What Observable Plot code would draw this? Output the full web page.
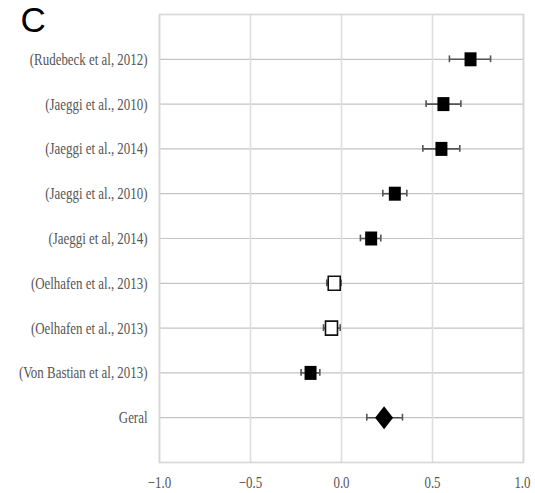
<!DOCTYPE html>
<html>
<head>
<meta charset="utf-8">
<script src="https://cdn.jsdelivr.net/npm/d3@7"></script>
<script src="https://cdn.jsdelivr.net/npm/@observablehq/plot@0.6"></script>
<style>
  body { margin: 0; background: #fff; }
  #chart { position: relative; width: 535px; height: 493px; }
</style>
</head>
<body>
<div id="chart"></div>
<script>
const ids = ["r1","r2","r3","r4","r5","r6","r7","r8","r9"];
const labels = ["(Rudebeck et al, 2012)","(Jaeggi et al., 2010)","(Jaeggi et al., 2014)","(Jaeggi et al., 2010)","(Jaeggi et al, 2014)","(Oelhafen et al., 2013)","(Oelhafen et al., 2013)","(Von Bastian et al, 2013)","Geral"];
const effect = [0.709, 0.560, 0.549, 0.293, 0.163, -0.040, -0.055, -0.170, 0.234];
const lower  = [0.593, 0.465, 0.447, 0.227, 0.104, -0.081, -0.099, -0.222, 0.139];
const upper  = [0.819, 0.656, 0.650, 0.359, 0.216, -0.002, -0.007, -0.119, 0.335];
const kind   = ["filled","filled","filled","filled","filled","open","open","filled","overall"];
const xTicks = [-1, -0.5, 0, 0.5, 1];

const data = ids.map((id, i) => ({id, label: labels[i], effect: effect[i], lower: lower[i], upper: upper[i], kind: kind[i]}));
const labelOf = new Map(data.map(d => [d.id, d.label]));

const rectSymbol = {draw(ctx) { ctx.rect(-6, -7, 12, 14); }};
const diamondSymbol = {draw(ctx) { ctx.moveTo(0, -11.5); ctx.lineTo(9, 0); ctx.lineTo(0, 11.5); ctx.lineTo(-9, 0); ctx.closePath(); }};

const chart = Plot.plot({
  width: 535,
  height: 493,
  marginLeft: 159,
  marginRight: 12,
  marginTop: 14,
  marginBottom: 31,
  style: {fontFamily: "'Liberation Serif', 'Times New Roman', serif", fontSize: "17px", color: "#555", background: "#fff"},
  x: {domain: [-1, 1], label: null},
  y: {type: "band", domain: ids, padding: 0, paddingOuter: 0.5, round: false, label: null},
  marks: [
    Plot.gridY({stroke: "#c4c4c4", strokeOpacity: 1, strokeWidth: 1.2}),
    Plot.gridX(xTicks, {stroke: "#dedede", strokeOpacity: 1, strokeWidth: 1.6}),
    Plot.frame({stroke: "#d6d6d6", strokeWidth: 1.6}),
    Plot.axisY({tickSize: 0, tickPadding: 12, tickFormat: d => labelOf.get(d), label: null}),
    Plot.axisX(xTicks.slice(0, -1), {tickSize: 0, tickPadding: 13, tickFormat: d3.format(".1f"), label: null}),
    Plot.axisX(xTicks.slice(-1), {tickSize: 0, tickPadding: 13, tickFormat: d3.format(".1f"), textAnchor: "end", dx: 7, label: null}),
    Plot.ruleY(data, {y: "id", x1: "lower", x2: "upper", stroke: "#555", strokeWidth: 1.6}),
    Plot.tickX(data, {x: "lower", y: "id", stroke: "#555", strokeWidth: 1.6, insetTop: 19, insetBottom: 19}),
    Plot.tickX(data, {x: "upper", y: "id", stroke: "#555", strokeWidth: 1.6, insetTop: 19, insetBottom: 19}),
    Plot.dot(data.filter(d => d.kind === "filled"), {x: "effect", y: "id", symbol: rectSymbol, fill: "#000", stroke: "none"}),
    Plot.dot(data.filter(d => d.kind === "open"), {x: "effect", y: "id", symbol: rectSymbol, fill: "#fff", stroke: "#111", strokeWidth: 1.6}),
    Plot.dot(data.filter(d => d.kind === "overall"), {x: "effect", y: "id", symbol: diamondSymbol, fill: "#000", stroke: "none"}),
    Plot.text(["C"], {frameAnchor: "top-left", text: d => d, dx: -139, dy: 17, textAnchor: "start", lineAnchor: "bottom", fontSize: 35, fontFamily: "'Liberation Sans', Arial, sans-serif", fill: "#000"})
  ]
});
document.getElementById("chart").appendChild(chart);

// Horizontally condense the serif tick labels, like the reference
chart.querySelectorAll('g[aria-label="y-axis tick label"] text, g[aria-label="x-axis tick label"] text').forEach(t => {
  const w = t.getComputedTextLength();
  t.setAttribute("textLength", (w * 0.76).toFixed(1));
  t.setAttribute("lengthAdjust", "spacingAndGlyphs");
});
</script>
</body>
</html>
